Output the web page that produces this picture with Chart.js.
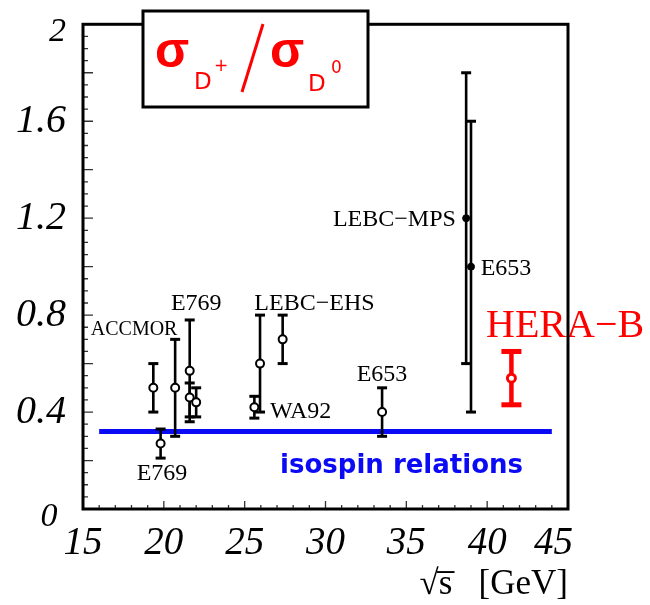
<!doctype html>
<html lang="en">
<head>
<meta charset="utf-8">
<title>D+ / D0 cross section ratio</title>
<script src="https://cdn.jsdelivr.net/npm/chart.js"></script>
<style>
  body { margin: 0; background: #fff; }
  #wrap { width: 650px; height: 605px; }
</style>
</head>
<body>
<div id="wrap"><canvas id="ratioChart" width="650" height="605"></canvas></div>
<script>
// fixed-target measurements (open circles): sqrt(s) [GeV], ratio, errors
const energy  = [19.35, 19.8, 20.7, 21.6, 21.6, 22.0, 25.6, 25.95, 27.35, 33.5];
const ratio   = [0.50, 0.27, 0.50, 0.57, 0.46, 0.44, 0.42, 0.60, 0.70, 0.40];
const errUp   = [0.10, 0.06, 0.20, 0.21, 0.06, 0.06, 0.045, 0.20, 0.10, 0.10];
const errDown = [0.10, 0.06, 0.20, 0.21, 0.08, 0.06, 0.045, 0.20, 0.10, 0.10];

// LEBC-MPS and E653 (filled points)
const energyFilled = [38.7, 39.0];
const ratioFilled  = [1.20, 1.00];
const errFilled    = [0.60, 0.60];

// HERA-B
const heraEnergy = [41.5];
const heraRatio  = [0.54];
const heraErr    = [0.11];

// isospin expectation
const isospinFrom = 16;
const isospinTo = 44;
const isospinValue = 0.32;

const xTickLabels = ['15', '20', '25', '30', '35', '40', '45'];
const yTickLabels = ['0', '0.4', '0.8', '1.2', '1.6', '2'];

// experiment names, placed in data coordinates
const tagText = ['ACCMOR', 'E769', 'E769', 'LEBC\u2212EHS', 'WA92', 'E653', 'LEBC\u2212MPS', 'E653'];
const tagX    = [15.48, 20.44, 18.32, 25.6, 26.57, 31.93, 30.46, 39.6];
const tagY    = [0.741, 0.849, 0.147, 0.849, 0.403, 0.556, 1.192, 0.99];

const toPoints = (xs, ys) => xs.map((x, i) => ({ x: x, y: ys[i] }));

// draws vertical error bars with caps right before each dataset's markers
const errorBars = {
  id: 'errorBars',
  beforeDatasetDraw(chart, args) {
    const ds = chart.data.datasets[args.index];
    if (!ds.errUp) return;
    const { ctx, scales: { x, y } } = chart;
    ctx.save();
    ctx.strokeStyle = ds.barColor;
    ctx.fillStyle = ds.barColor;
    ctx.lineWidth = ds.barWidth;
    ds.data.forEach((p, i) => {
      const px = x.getPixelForValue(p.x);
      const top = y.getPixelForValue(p.y + ds.errUp[i]);
      const bot = y.getPixelForValue(p.y - ds.errDown[i]);
      ctx.beginPath();
      ctx.moveTo(px, top);
      ctx.lineTo(px, bot);
      ctx.stroke();
      ctx.fillRect(px - ds.capHalf, top - ds.capThick / 2, ds.capHalf * 2, ds.capThick);
      ctx.fillRect(px - ds.capHalf, bot - ds.capThick / 2, ds.capHalf * 2, ds.capThick);
    });
    ctx.restore();
  }
};

// inner tick marks, experiment names, frame and the title box
const decorations = {
  id: 'decorations',
  afterDatasetsDraw(chart) {
    const { ctx, chartArea: a, scales: { x, y } } = chart;
    ctx.save();

    ctx.strokeStyle = '#333';
    ctx.lineWidth = 1.3;
    ctx.beginPath();
    y.ticks.forEach(t => {
      const py = y.getPixelForValue(t.value);
      const len = Math.round(t.value * 100) % 20 === 0 ? 10 : 5;
      ctx.moveTo(a.left, py);
      ctx.lineTo(a.left + len, py);
    });
    x.ticks.forEach(t => {
      const px = x.getPixelForValue(t.value);
      const len = Math.round(t.value) % 5 === 0 ? 8 : 4;
      ctx.moveTo(px, a.bottom);
      ctx.lineTo(px, a.bottom - len);
    });
    ctx.stroke();

    ctx.fillStyle = '#000';
    ctx.textBaseline = 'middle';
    ctx.textAlign = 'left';
    tagText.forEach((t, i) => {
      ctx.font = (i === 0 ? 20 : 24) + 'px "Liberation Serif"';
      ctx.fillText(t, x.getPixelForValue(tagX[i]), y.getPixelForValue(tagY[i]));
    });

    ctx.fillStyle = '#ff0000';
    ctx.font = '40px "Liberation Serif"';
    ctx.fillText('HERA\u2212B', x.getPixelForValue(39.93), y.getPixelForValue(0.753));

    ctx.fillStyle = '#0a0af5';
    ctx.font = 'bold 26px "DejaVu Sans"';
    ctx.textBaseline = 'alphabetic';
    ctx.fillText('isospin relations', x.getPixelForValue(27.19), y.getPixelForValue(0.148));

    // frame
    ctx.strokeStyle = '#000';
    ctx.lineWidth = 3;
    ctx.strokeRect(a.left, a.top, a.right - a.left, a.bottom - a.top);

    // title box: sigma(D+)/sigma(D0)
    ctx.fillStyle = '#fff';
    ctx.fillRect(143, 11, 225, 96);
    ctx.strokeRect(143, 11, 225, 96);
    ctx.fillStyle = '#ff0000';
    ctx.strokeStyle = '#ff0000';
    ctx.font = 'bold 50px "Liberation Sans"';
    ctx.fillText('\u03c3', 155, 67);
    ctx.fillText('\u03c3', 270, 67);
    ctx.font = '23px "DejaVu Sans"';
    ctx.fillText('D', 194, 89);
    ctx.fillText('D', 308, 91);
    ctx.font = '17px "DejaVu Sans"';
    ctx.fillText('+', 214, 71);
    ctx.fillText('0', 331, 73);
    ctx.lineWidth = 3;
    ctx.beginPath();
    ctx.moveTo(263, 24);
    ctx.lineTo(242, 92);
    ctx.stroke();

    ctx.restore();
  }
};

const serif = { family: 'Liberation Serif', style: 'italic' };

new Chart(document.getElementById('ratioChart'), {
  type: 'scatter',
  data: {
    datasets: [
      {
        label: 'isospin relations',
        type: 'line',
        data: [{ x: isospinFrom, y: isospinValue }, { x: isospinTo, y: isospinValue }],
        borderColor: '#0a0af5',
        borderWidth: 5,
        pointRadius: 0,
        order: 10
      },
      {
        label: 'fixed target',
        data: toPoints(energy, ratio),
        errUp: errUp, errDown: errDown,
        barColor: '#000', barWidth: 2.6, capHalf: 5, capThick: 3,
        pointRadius: 4,
        pointBackgroundColor: '#fff',
        pointBorderColor: '#000',
        pointBorderWidth: 2,
        order: 3
      },
      {
        label: 'LEBC-MPS / E653',
        data: toPoints(energyFilled, ratioFilled),
        errUp: errFilled, errDown: errFilled,
        barColor: '#000', barWidth: 2.6, capHalf: 5, capThick: 3,
        pointRadius: 3.5,
        pointBackgroundColor: '#000',
        pointBorderColor: '#000',
        pointBorderWidth: 1,
        order: 2
      },
      {
        label: 'HERA-B',
        data: toPoints(heraEnergy, heraRatio),
        errUp: heraErr, errDown: heraErr,
        barColor: '#ff0000', barWidth: 4.5, capHalf: 10, capThick: 5,
        pointRadius: 4,
        pointBackgroundColor: '#fff',
        pointBorderColor: '#ff0000',
        pointBorderWidth: 3,
        order: 1
      }
    ]
  },
  options: {
    responsive: false,
    animation: false,
    layout: { padding: { left: 0, right: 82, top: 23, bottom: 0 } },
    plugins: { legend: { display: false }, tooltip: { enabled: false } },
    scales: {
      x: {
        type: 'linear',
        min: 15, max: 45,
        afterFit: s => { s.height = 96; },
        grid: { display: false },
        border: { display: false },
        ticks: {
          stepSize: 1,
          autoSkip: false,
          maxRotation: 0,
          padding: 3,
          color: '#000',
          font: Object.assign({ size: 39 }, serif),
          callback: v => (v % 5 === 0 ? xTickLabels[(v - 15) / 5] + (v === 45 ? '   ' : '') : '')
        },
        title: {
          display: true,
          text: '\u221as\u0305   [GeV]',
          align: 'end',
          color: '#000',
          padding: { top: 0, bottom: -1 },
          font: { family: 'Liberation Serif', size: 35 }
        }
      },
      y: {
        min: 0, max: 2,
        afterFit: s => { s.width = 83; },
        grid: { display: false },
        border: { display: false },
        ticks: {
          stepSize: 0.05,
          autoSkip: false,
          padding: 9,
          color: '#000',
          // the end labels are set smaller and sit a little below their ticks
          font: ctx => {
            const v = ctx.tick ? Math.round(ctx.tick.value * 100) : 40;
            if (v === 0 || v === 200) return Object.assign({ size: 34, lineHeight: 0.45 }, serif);
            return Object.assign({ size: 40 }, serif);
          },
          callback: v => {
            const k = Math.round(v * 100);
            if (k % 40 !== 0) return '';
            const label = yTickLabels[k / 40];
            if (k === 0) return ['', label + ' '];
            if (k === 200) return ['', label];
            return label;
          }
        }
      }
    }
  },
  plugins: [errorBars, decorations]
});
</script>
</body>
</html>
